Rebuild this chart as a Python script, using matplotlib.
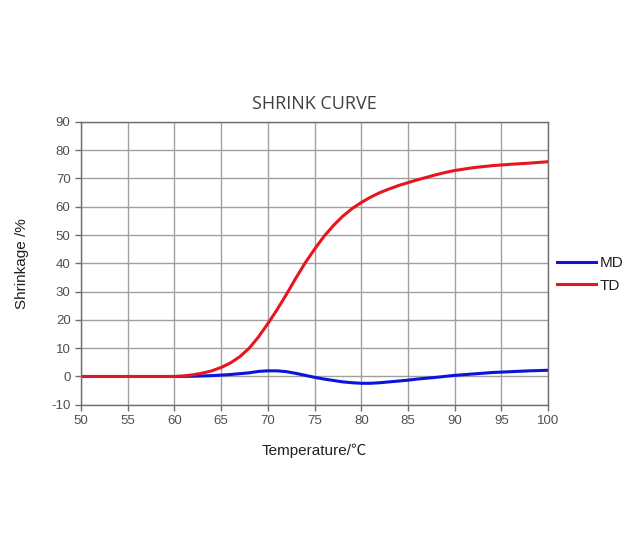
import matplotlib
matplotlib.use("Agg")
import matplotlib.pyplot as plt
import numpy as np

plt.rcParams["axes.unicode_minus"] = False

temp_td = [50, 55, 60, 61, 62, 63, 64, 65, 66, 67, 68, 69, 70, 71, 72, 73, 74, 75, 76, 77, 78, 79, 80,
           81, 82, 83, 84, 85, 86, 87, 88, 89, 90, 92, 94, 96, 98, 100]
td = [0, 0, 0, 0.2, 0.6, 1.2, 2.0, 3.2, 4.8, 7.0, 10.0, 14.0, 18.7, 23.7, 29.1, 34.8, 40.2, 45.0, 49.5, 53.3, 56.6,
      59.3, 61.5, 63.4, 65.0, 66.3, 67.5, 68.5, 69.5, 70.4, 71.3, 72.1, 72.8, 73.8, 74.5, 75.0, 75.4, 75.9]

temp_md = [50, 55, 60, 62, 64, 66, 68, 69, 70, 71, 72, 73, 74, 75, 76, 77, 78, 79, 80, 81, 82, 83, 84,
           85, 86, 88, 90, 92, 94, 96, 98, 100]
md = [0, 0, 0, 0.1, 0.3, 0.7, 1.3, 1.8, 2.0, 2.0, 1.7, 1.1, 0.4, -0.3, -0.9, -1.4, -1.9, -2.2, -2.4, -2.4,
      -2.2, -1.9, -1.6, -1.3, -0.9, -0.3, 0.4, 0.9, 1.4, 1.7, 2.0, 2.2]

xticks = list(range(50, 101, 5))
yticks = list(range(-10, 91, 10))

fig = plt.figure(figsize=(6.33, 5.39), dpi=100)
ax = fig.add_axes([0.128, 0.249, 0.738, 0.525])

ax.plot(temp_md, md, color="#0a14dc", lw=2.2, label="MD", solid_joinstyle="round")
ax.plot(temp_td, td, color="#e8141e", lw=2.2, label="TD", solid_joinstyle="round")

ax.set_xlim(50, 100)
ax.set_ylim(-10, 90)
ax.set_xticks(xticks)
ax.set_yticks(yticks)
ax.grid(True, color="#a0a0a0", lw=1.0)
ax.set_axisbelow(True)
for s in ax.spines.values():
    s.set_color("#6e6e6e")
    s.set_linewidth(1.0)
ax.tick_params(axis="both", colors="#6e6e6e", labelcolor="#505050", labelsize=9.5, length=4, width=1)
for lab in ax.get_xticklabels() + ax.get_yticklabels():
    lab.set_family("Liberation Sans")

ax.set_xlabel("Temperature/℃", fontsize=11, family=["Liberation Sans", "Noto Sans CJK SC"], color="#202020", labelpad=12)
ax.set_ylabel("Shrinkage /%", fontsize=11, family="Liberation Sans", color="#202020", labelpad=16)
ax.set_title("SHRINK CURVE", fontsize=13, family="Open Sans", color="#404040", pad=9)

leg = ax.legend(loc="center left", bbox_to_anchor=(1.0, 0.46), frameon=False,
                prop={"family": "Liberation Sans", "size": 11}, handlelength=2.5, handletextpad=0.25,
                labelspacing=0.55, borderaxespad=0.2)
for t in leg.get_texts():
    t.set_color("#202020")

fig.savefig("out.png", dpi=100)
